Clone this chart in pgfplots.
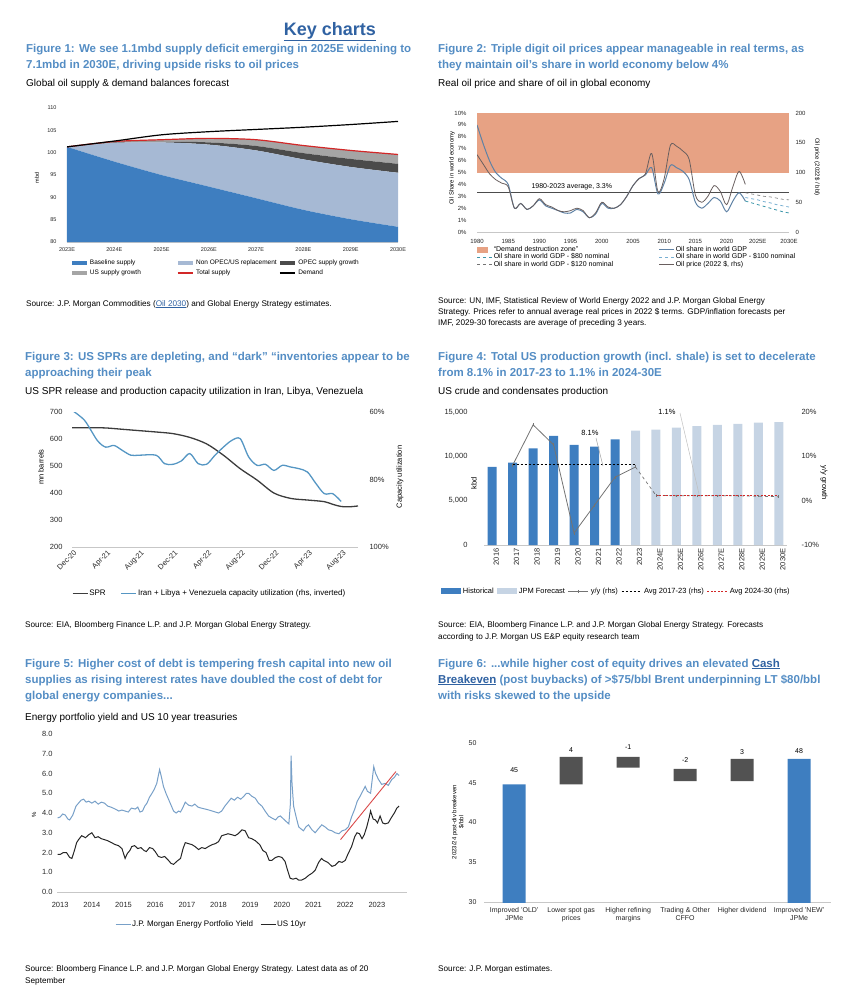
\documentclass[border=0pt]{standalone}
\usepackage{fontspec}
\setmainfont{Liberation Sans}
\usepackage{pgfplots}
\pgfplotsset{compat=1.18}
\usepackage{pgfplotstable}

\definecolor{keyblue}{RGB}{48,98,162}
\definecolor{titleblue}{RGB}{84,141,196}
\definecolor{barblue}{RGB}{62,126,192}
\definecolor{lightbar}{RGB}{198,212,228}
\definecolor{nonopec}{RGB}{166,185,212}
\definecolor{opecgrey}{RGB}{75,75,75}
\definecolor{usgrey}{RGB}{165,165,165}
\definecolor{demred}{RGB}{210,40,40}
\definecolor{salmon}{RGB}{231,162,132}
\definecolor{shareblue}{RGB}{95,130,165}
\definecolor{pricegrey}{RGB}{105,95,95}
\definecolor{teal80}{RGB}{60,150,170}
\definecolor{lb100}{RGB}{120,175,210}
\definecolor{yieldblue}{RGB}{120,160,200}
\definecolor{sprgrey}{RGB}{60,60,60}
\definecolor{utilblue}{RGB}{85,150,195}

\newcommand\ttl{\fontsize{11.5}{14}\selectfont\bfseries\color{titleblue}}
\newcommand\sub{\fontsize{10}{12}\selectfont}
\newcommand\src{\fontsize{8.2}{10}\selectfont}
\newcommand\tl[3]{\node[anchor=base west,inner sep=0pt] at (#1pt,-#2pt) {#3};}

\pgfplotsset{
  base/.style={scale only axis, anchor=south west, enlargelimits=false, clip=true,
    axis line style={draw=black!22, line width=0.6pt},
    major tick length=0pt, minor tick length=0pt,
    tick label style={text=black!85},
    /pgf/number format/assume math mode=true,
    legend style={draw=none, fill=none, inner sep=0pt, outer sep=0pt,
      nodes={inner sep=1pt}},
    legend cell align=left},
  larea/.style={legend image code/.code={\fill[##1,draw=none] (0pt,-1.8pt) rectangle (15pt,1.8pt);}},
  lbox/.style={legend image code/.code={\fill[##1,draw=none] (0pt,-3pt) rectangle (11pt,3pt);}},
  lbar/.style={legend image code/.code={\fill[##1,draw=none] (0pt,-3pt) rectangle (20pt,3pt);}},
  lline/.style={legend image code/.code={\draw[##1] (0pt,0pt) -- (15pt,0pt);}},
  lline2/.style={legend image code/.code={\draw[##1] (0pt,0pt) -- (20pt,0pt);}},
  lmark/.style={legend image code/.code={\draw[mark repeat=2,mark phase=2,##1] plot coordinates {(0pt,0pt) (10pt,0pt) (20pt,0pt)};}},
}

% Figure 1: supply stack and demand (mbd)
\pgfplotstableread{
x B N O U T D
0 101.3 0 0 0 101.3 101.3
1 98.0 4.2 0.1 0.2 102.5 102.6
2 95.0 7.3 0.2 0.4 102.9 104.0
3 92.4 9.4 0.5 0.9 103.2 104.7
4 89.8 10.7 1.0 1.4 102.9 105.2
5 87.2 11.3 1.4 1.7 101.6 105.7
6 85.1 11.7 1.8 1.9 100.5 106.3
7 83.4 12.1 2.0 2.1 99.6 107.0
}\figone

% Figure 2: oil share (% of GDP) and real oil price (2022 $/bbl)
\pgfplotstableread{
year share price
1980 9.0 130
1981 7.4 114
1982 6.0 98
1983 5.0 88
1984 4.5 82
1985 4.0 76
1986 2.0 40
1987 2.4 48
1988 1.9 38
1989 2.2 44
1990 2.7 56
1991 2.2 46
1992 2.0 42
1993 1.8 36
1994 1.6 34
1995 1.6 36
1996 1.9 40
1997 1.7 36
1998 1.2 24
1999 1.5 32
2000 2.4 50
2001 2.0 42
2002 2.0 40
2003 2.3 46
2004 3.0 60
2005 3.9 78
2006 4.5 90
2007 4.8 98
2008 5.4 132
2009 3.2 68
2010 4.1 90
2011 5.6 146
2012 5.4 144
2013 5.1 136
2014 4.4 122
2015 2.5 62
2016 2.0 50
2017 2.4 60
2018 2.9 78
2019 2.6 68
2020 1.7 46
2021 2.6 76
2022 3.3 102
2023 2.6 80
}\figtwo

% Figure 3: SPR (mn bbl) and capacity utilization (%)
\pgfplotstableread{
m spr
0 642
2 642
4 641
6 636
8 631
10 626
12 620
14 606
16 582
18 540
20 490
22 448
24 400
26 380
28 374
30 368
31 358
32 350
33 349
34 352
}\figthreeA
\pgfplotstableread{
m util
0 59.5
1.5 62.5
3 68.4
4 70.4
5 69.9
6 71.4
7 72.8
8 72.8
10 72.8
11 75.3
12 75.5
13 74.5
14 72.3
15 75.3
16 75.5
17 72.8
18 70.4
19 68.4
20 67.9
21 73.3
22 75.8
23 75.5
24 77.3
25 75.8
26 76.3
27 76.8
28 77.8
29 81.2
30 84.2
31 84.2
32 86.5
}\figthreeB

% Figure 4: US crude production (kbd)
\pgfplotstableread{
year kbd
2016 8800
2017 9300
2018 10900
2019 12300
2020 11300
2021 11100
2022 11900
}\figfourH
\pgfplotstableread{
year kbd
2023 12900
2024 13000
2025 13250
2026 13400
2027 13550
2028 13650
2029 13800
2030 13850
}\figfourF

% Figure 5: energy portfolio yield and US 10yr
\pgfplotstableread{
t v
2012.92 3.75
2013.00 3.8
2013.08 3.95
2013.16 3.9
2013.24 3.7
2013.30 3.65
2013.40 3.9
2013.50 4.35
2013.58 4.5
2013.66 4.65
2013.74 4.7
2013.82 4.55
2013.90 4.6
2014.00 4.5
2014.10 4.6
2014.20 4.45
2014.30 4.55
2014.40 4.5
2014.50 4.35
2014.60 4.3
2014.74 4.2
2014.85 4.1
2014.95 4.15
2015.05 4.1
2015.15 4.05
2015.25 4.25
2015.37 4.2
2015.45 4.3
2015.52 4.05
2015.60 4.1
2015.67 4.35
2015.74 4.5
2015.82 4.8
2015.90 5.0
2015.97 5.2
2016.05 5.5
2016.10 5.9
2016.14 6.2
2016.20 5.8
2016.26 5.35
2016.34 5.0
2016.42 4.7
2016.50 4.4
2016.58 4.1
2016.66 4.0
2016.74 4.1
2016.80 4.05
2016.88 4.3
2016.95 4.55
2017.05 4.4
2017.16 4.35
2017.25 4.45
2017.35 4.3
2017.45 4.25
2017.58 4.2
2017.70 4.15
2017.80 4.1
2017.90 4.05
2018.00 4.0
2018.10 4.1
2018.20 4.35
2018.30 4.55
2018.40 4.75
2018.50 4.65
2018.60 4.8
2018.70 4.7
2018.80 4.85
2018.88 5.0
2018.95 5.0
2019.05 4.85
2019.16 4.75
2019.26 4.5
2019.37 4.35
2019.47 4.1
2019.58 3.85
2019.68 3.75
2019.80 3.65
2019.88 3.8
2019.95 3.85
2020.05 3.7
2020.15 3.55
2020.22 3.45
2020.27 4.5
2020.29 6.9
2020.32 5.5
2020.37 4.35
2020.45 3.8
2020.53 3.3
2020.60 3.2
2020.68 3.1
2020.76 3.3
2020.84 3.4
2020.95 3.15
2021.05 3.0
2021.15 3.2
2021.26 3.4
2021.36 3.3
2021.47 3.15
2021.58 3.1
2021.68 3.0
2021.80 2.95
2021.90 3.1
2022.00 3.15
2022.10 3.3
2022.20 3.8
2022.30 4.2
2022.38 4.6
2022.47 4.85
2022.55 5.1
2022.63 5.35
2022.70 5.1
2022.80 5.0
2022.86 5.8
2022.90 6.35
2022.96 6.0
2023.05 5.7
2023.15 5.45
2023.26 5.5
2023.36 5.4
2023.47 5.7
2023.55 5.8
2023.63 6.0
2023.70 5.9
}\figfiveA
\pgfplotstableread{
t v
2012.92 1.9
2013.00 1.9
2013.10 2.0
2013.20 2.0
2013.30 1.75
2013.37 1.7
2013.45 2.1
2013.52 2.5
2013.58 2.65
2013.68 2.85
2013.80 2.75
2013.90 2.9
2014.00 3.0
2014.10 2.75
2014.20 2.8
2014.30 2.7
2014.40 2.65
2014.50 2.6
2014.62 2.5
2014.74 2.4
2014.84 2.35
2014.95 2.2
2015.05 1.7
2015.12 1.95
2015.20 2.1
2015.26 2.3
2015.35 2.35
2015.45 2.2
2015.55 2.25
2015.65 2.1
2015.72 2.05
2015.82 2.25
2015.92 2.2
2016.00 2.05
2016.10 1.8
2016.20 1.75
2016.30 1.8
2016.42 1.6
2016.50 1.45
2016.58 1.4
2016.68 1.55
2016.80 1.7
2016.88 2.2
2016.95 2.5
2017.05 2.45
2017.16 2.4
2017.26 2.3
2017.37 2.15
2017.47 2.25
2017.58 2.2
2017.68 2.3
2017.80 2.4
2017.90 2.45
2018.00 2.55
2018.10 2.85
2018.20 2.9
2018.30 2.95
2018.42 2.9
2018.52 2.85
2018.62 2.95
2018.74 3.15
2018.84 3.1
2018.95 2.75
2019.05 2.7
2019.16 2.6
2019.30 2.4
2019.40 2.1
2019.50 2.0
2019.60 1.6
2019.68 1.6
2019.80 1.75
2019.90 1.8
2020.00 1.75
2020.10 1.55
2020.18 1.1
2020.26 0.7
2020.35 0.65
2020.45 0.7
2020.53 0.6
2020.62 0.6
2020.74 0.7
2020.85 0.85
2020.95 0.95
2021.05 1.1
2021.16 1.5
2021.25 1.7
2021.32 1.6
2021.45 1.5
2021.58 1.3
2021.68 1.35
2021.80 1.55
2021.90 1.5
2022.00 1.6
2022.08 1.9
2022.20 2.3
2022.30 2.8
2022.37 3.0
2022.45 2.95
2022.53 2.7
2022.60 2.9
2022.68 3.3
2022.76 3.8
2022.80 4.1
2022.88 3.7
2022.95 3.65
2023.02 3.5
2023.10 3.85
2023.18 3.5
2023.26 3.45
2023.36 3.5
2023.45 3.75
2023.55 4.0
2023.63 4.25
2023.70 4.35
}\figfiveB

\begin{document}
\begin{tikzpicture}
\path (0pt,0pt) rectangle (848pt,-997pt);

% ---------- header and text ----------
\node[anchor=base,inner sep=0pt,font=\fontsize{18}{20}\selectfont\bfseries,text=keyblue] at (330pt,-35pt) {\underline{Key charts}};

\tl{26}{52}{\ttl Figure 1: We see 1.1mbd supply deficit emerging in 2025E widening to}
\tl{26}{68}{\ttl 7.1mbd in 2030E, driving upside risks to oil prices}
\tl{26}{86}{\sub Global oil supply \& demand balances forecast}
\tl{26}{306}{\src Source: J.P. Morgan Commodities (\textcolor{keyblue}{\underline{Oil 2030}}) and Global Energy Strategy estimates.}

\tl{438}{52}{\ttl Figure 2: Triple digit oil prices appear manageable in real terms, as}
\tl{438}{68}{\ttl they maintain oil’s share in world economy below 4\%}
\tl{438}{86}{\sub Real oil price and share of oil in global economy}
\tl{438}{303}{\src Source: UN, IMF, Statistical Review of World Energy 2022 and J.P. Morgan Global Energy}
\tl{438}{314}{\src Strategy. Prices refer to annual average real prices in 2022 \$ terms. GDP/inflation forecasts per}
\tl{438}{325}{\src IMF, 2029-30 forecasts are average of preceding 3 years.}

\tl{25}{360}{\ttl Figure 3: US SPRs are depleting, and “dark” “inventories appear to be}
\tl{25}{376}{\ttl approaching their peak}
\tl{25}{394}{\sub US SPR release and production capacity utilization in Iran, Libya, Venezuela}
\tl{25}{627}{\src Source: EIA, Bloomberg Finance L.P. and J.P. Morgan Global Energy Strategy.}

\tl{438}{360}{\ttl Figure 4: Total US production growth (incl. shale) is set to decelerate}
\tl{438}{376}{\ttl from 8.1\% in 2017-23 to 1.1\% in 2024-30E}
\tl{438}{394}{\sub US crude and condensates production}
\tl{438}{627}{\src Source: EIA, Bloomberg Finance L.P. and J.P. Morgan Global Energy Strategy. Forecasts}
\tl{438}{639}{\src according to J.P. Morgan US E\&P equity research team}

\tl{25}{667}{\ttl Figure 5: Higher cost of debt is tempering fresh capital into new oil}
\tl{25}{683}{\ttl supplies as rising interest rates have doubled the cost of debt for}
\tl{25}{699}{\ttl global energy companies...}
\tl{25}{720}{\sub Energy portfolio yield and US 10 year treasuries}
\tl{25}{971}{\src Source: Bloomberg Finance L.P. and J.P. Morgan Global Energy Strategy. Latest data as of 20}
\tl{25}{983}{\src September}

\tl{438}{667}{\ttl Figure 6: ...while higher cost of equity drives an elevated {\color{keyblue}\underline{Cash}}}
\tl{438}{683}{\ttl {\color{keyblue}\underline{Breakeven}} (post buybacks) of >\$75/bbl Brent underpinning LT \$80/bbl}
\tl{438}{699}{\ttl with risks skewed to the upside}
\tl{438}{971}{\src Source: J.P. Morgan estimates.}

% ---------- Figure 1 ----------
\begin{axis}[base, at={(67pt,-242pt)}, width=331pt, height=134pt,
  xmin=0, xmax=7, ymin=80, ymax=110, ytick={80,85,...,110},
  xtick={0,...,7}, xticklabels={2023E,2024E,2025E,2026E,2027E,2028E,2029E,2030E},
  tick label style={font=\fontsize{5.5}{6}\selectfont},
  axis x line*=bottom, axis y line*=left, x axis line style={-}, y axis line style={draw=none},
  yticklabel style={xshift=-7pt}, xticklabel style={yshift=-2pt},
  stack plots=y]
\addplot[fill=barblue, draw=none, smooth] table[x=x,y=B]{\figone} \closedcycle;
\addplot[fill=nonopec, draw=none, smooth] table[x=x,y=N]{\figone} \closedcycle;
\addplot[fill=opecgrey, draw=none, smooth] table[x=x,y=O]{\figone} \closedcycle;
\addplot[fill=usgrey, draw=none, smooth] table[x=x,y=U]{\figone} \closedcycle;
\end{axis}
\begin{axis}[base, at={(67pt,-242pt)}, width=331pt, height=134pt,
  xmin=0, xmax=7, ymin=80, ymax=110, hide axis,
  legend columns=3,
  legend style={at={(axis description cs:0.015,-0.125)}, anchor=north west,
    font=\fontsize{6.5}{7}\selectfont, row sep=2pt,
    /tikz/every odd column/.append style={column sep=2pt}}]
\addlegendimage{larea, fill=barblue}\addlegendentry{\makebox[86pt][l]{Baseline supply}}
\addlegendimage{larea, fill=nonopec}\addlegendentry{\makebox[82pt][l]{Non OPEC/US replacement}}
\addlegendimage{larea, fill=opecgrey}\addlegendentry{OPEC supply growth}
\addlegendimage{larea, fill=usgrey}\addlegendentry{\makebox[86pt][l]{US supply growth}}
\addplot[demred, line width=1.2pt, smooth, lline] table[x=x,y=T]{\figone};
\addlegendentry{\makebox[82pt][l]{Total supply}}
\addplot[black, line width=1.2pt, smooth, lline] table[x=x,y=D]{\figone};
\addlegendentry{Demand}
\end{axis}
\node[rotate=90,font=\fontsize{5.5}{6}\selectfont] at (37pt,-178pt) {mbd};

% ---------- Figure 2 ----------
\begin{axis}[base, at={(477pt,-232pt)}, width=312pt, height=119pt,
  xmin=1980, xmax=2030, ymin=0, ymax=10, ytick={0,...,10},
  yticklabel={\pgfmathprintnumber{\tick}\%},
  xtick={1980,1985,...,2030},
  xticklabels={1980,1985,1990,1995,2000,2005,2010,2015,2020,2025E,2030E},
  tick label style={font=\fontsize{6}{7}\selectfont},
  axis x line*=bottom, axis y line*=left, x axis line style={-}, y axis line style={draw=none},
  yticklabel style={xshift=-7pt}, xticklabel style={yshift=-4pt}]
\addplot[fill=salmon, draw=none] coordinates {(1980,5) (2030,5) (2030,10) (1980,10)};
\addplot[black!70, line width=0.8pt] coordinates {(1980,3.3) (2030,3.3)};
\addplot[shareblue, line width=1pt, smooth] table[x=year,y=share]{\figtwo};
\addplot[teal80, dashed, line width=0.8pt] coordinates {(2023,2.6) (2024,2.45) (2025,2.3) (2026,2.15) (2027,2.0) (2028,1.85) (2029,1.7) (2030,1.6)};
\addplot[lb100, dashed, line width=0.8pt] coordinates {(2023,2.9) (2024,2.8) (2025,2.7) (2026,2.55) (2027,2.45) (2028,2.3) (2029,2.2) (2030,2.1)};
\addplot[black!55, dashed, line width=0.6pt] coordinates {(2023,3.3) (2024,3.2) (2025,3.1) (2026,3.0) (2027,2.95) (2028,2.85) (2029,2.75) (2030,2.7)};
\node[font=\fontsize{7}{8}\selectfont] at (axis cs:1995.2,3.8) {1980-2023 average, 3.3\%};
\end{axis}
\begin{axis}[base, at={(477pt,-232pt)}, width=312pt, height=119pt,
  xmin=1980, xmax=2030, ymin=0, ymax=200, ytick={0,50,...,200},
  tick label style={font=\fontsize{6}{7}\selectfont},
  axis x line=none, axis y line*=right, y axis line style={draw=none},
  yticklabel style={xshift=3pt},
  legend columns=2,
  legend style={at={(axis description cs:0,-0.115)}, anchor=north west,
    font=\fontsize{7}{8}\selectfont, row sep=-1.5pt}]
\addlegendimage{lbox, fill=salmon}\addlegendentry{\makebox[164pt][l]{“Demand destruction zone”}}
\addlegendimage{lline, shareblue, line width=1pt}\addlegendentry{Oil share in world GDP}
\addlegendimage{lline, teal80, dashed, line width=0.8pt}\addlegendentry{Oil share in world GDP - \$80 nominal}
\addlegendimage{lline, lb100, dashed, line width=0.8pt}\addlegendentry{Oil share in world GDP - \$100 nominal}
\addlegendimage{lline, black!55, dashed, line width=0.6pt}\addlegendentry{Oil share in world GDP - \$120 nominal}
\addplot[pricegrey, line width=0.8pt, smooth, lline] table[x=year,y=price]{\figtwo};
\addlegendentry{Oil price (2022 \$, rhs)}
\end{axis}
\node[rotate=90,font=\fontsize{6}{7}\selectfont] at (452pt,-168pt) {Oil Share in world economy};
\node[rotate=-90,font=\fontsize{6}{7}\selectfont] at (817pt,-167pt) {Oil price (2022\$ / bbl)};

% ---------- Figure 3 ----------
\begin{axis}[base, at={(72pt,-547pt)}, width=286pt, height=135pt,
  xmin=0, xmax=34, ymin=200, ymax=700, ytick={200,300,...,700},
  xtick={0,4,...,32},
  xticklabels={Dec-20,Apr-21,Aug-21,Dec-21,Apr-22,Aug-22,Dec-22,Apr-23,Aug-23},
  tick label style={font=\fontsize{7.5}{8}\selectfont},
  xticklabel style={rotate=45, anchor=north east, yshift=-2pt, inner sep=0.5pt},
  axis x line*=bottom, axis y line*=left, x axis line style={-}, y axis line style={draw=none},
  yticklabel style={xshift=-6pt}]
\addplot[sprgrey, line width=1.3pt, smooth] table[x=m,y=spr]{\figthreeA};
\end{axis}
\begin{axis}[base, at={(72pt,-547pt)}, width=286pt, height=135pt,
  xmin=0, xmax=34, ymin=60, ymax=100, y dir=reverse, ytick={60,80,100},
  yticklabel={\pgfmathprintnumber{\tick}\%},
  tick label style={font=\fontsize{7.5}{8}\selectfont},
  axis x line=none, axis y line*=right, y axis line style={draw=none},
  yticklabel style={xshift=8pt},
  legend columns=-1,
  legend style={at={(axis description cs:0,-0.31)}, anchor=north west,
    font=\fontsize{8}{9}\selectfont, /tikz/every even column/.append style={column sep=14pt}}]
\addlegendimage{lline, sprgrey, line width=1.3pt}\addlegendentry{SPR}
\addplot[utilblue, line width=1.3pt, smooth, lline] table[x=m,y=util]{\figthreeB};
\addlegendentry{Iran + Libya + Venezuela capacity utilization (rhs, inverted)}
\end{axis}
\node[rotate=90,font=\fontsize{7.5}{8}\selectfont] at (41pt,-467pt) {mn barrels};
\node[rotate=90,font=\fontsize{7.5}{8}\selectfont] at (400pt,-477pt) {Capacity utilization};

% ---------- Figure 4 ----------
\begin{axis}[base, at={(484pt,-545pt)}, width=303pt, height=133pt,
  xmin=2015.6, xmax=2030.4, ymin=0, ymax=15000, ytick={0,5000,10000,15000},
  scaled y ticks=false,
  xtick={2016,...,2030},
  xticklabels={2016,2017,2018,2019,2020,2021,2022,2023,2024E,2025E,2026E,2027E,2028E,2029E,2030E},
  tick label style={font=\fontsize{7.5}{8}\selectfont},
  xticklabel style={rotate=90, anchor=east, yshift=-4pt},
  axis x line*=bottom, axis y line*=left, x axis line style={-}, y axis line style={draw=none},
  yticklabel style={xshift=-13pt},
  ybar, bar width=9pt, bar shift=0pt]
\addplot[fill=barblue, draw=none] table[x=year,y=kbd]{\figfourH};
\addplot[fill=lightbar, draw=none] table[x=year,y=kbd]{\figfourF};
\end{axis}
\begin{axis}[base, at={(484pt,-545pt)}, width=303pt, height=133pt,
  xmin=2015.6, xmax=2030.4, ymin=-10, ymax=20, ytick={-10,0,10,20},
  yticklabel={\pgfmathprintnumber{\tick}\%},
  tick label style={font=\fontsize{7.5}{8}\selectfont},
  axis x line=none, axis y line*=right, y axis line style={draw=none},
  yticklabel style={xshift=11pt},
  legend columns=-1,
  legend style={at={(axis description cs:-0.142,-0.315)}, anchor=north west,
    font=\fontsize{7.5}{8}\selectfont,
    /tikz/every odd column/.append style={column sep=1pt},
    /tikz/every even column/.append style={column sep=2pt}}]
\addlegendimage{lbar, fill=barblue}\addlegendentry{Historical}
\addlegendimage{lbar, fill=lightbar}\addlegendentry{JPM Forecast}
\addplot[black!55, line width=0.8pt, mark=|, mark size=1.5pt, lmark]
  coordinates {(2017,8.0) (2018,17.1) (2019,12.6) (2020,-7.3) (2021,-1.0) (2022,5.3) (2023,7.6)};
\addlegendentry{y/y (rhs)}
\addplot[black!55, line width=0.7pt, dashed, mark=|, mark size=1.2pt, mark options={solid}, forget plot]
  coordinates {(2023,7.6) (2024,1.2) (2025,1.1) (2026,1.1) (2027,1.1) (2028,1.1) (2029,1.0) (2030,0.9)};
\addplot[black, line width=1.1pt, dash pattern=on 2.5pt off 1.5pt, lline2]
  coordinates {(2017,8.1) (2023,8.1)};
\addlegendentry{Avg 2017-23 (rhs)}
\addplot[demred, line width=0.9pt, dash pattern=on 2pt off 1.5pt, lline2]
  coordinates {(2024,1.1) (2030,1.1)};
\addlegendentry{Avg 2024-30 (rhs)}
\end{axis}
\node[rotate=90,font=\fontsize{7.5}{8}\selectfont] at (474pt,-483pt) {kbd};
\node[rotate=-90,font=\fontsize{7.5}{8}\selectfont] at (824pt,-483pt) {y/y growth};
\node[font=\fontsize{7.5}{8}\selectfont] at (590pt,-433pt) {8.1\%};
\draw[black!35, line width=0.5pt] (596pt,-438pt) -- (603pt,-466pt);
\node[font=\fontsize{7.5}{8}\selectfont] at (667pt,-412pt) {1.1\%};
\draw[black!25, line width=0.5pt] (680pt,-413pt) -- (699pt,-494pt);

% ---------- Figure 5 ----------
\begin{axis}[base, at={(57pt,-892pt)}, width=350pt, height=158pt,
  xmin=2012.9, xmax=2023.95, ymin=0, ymax=8, ytick={0,...,8},
  xtick={2013,...,2023},
  tick label style={font=\fontsize{7.5}{8}\selectfont},
  yticklabel style={/pgf/number format/.cd, fixed, fixed zerofill, precision=1, /tikz/.cd, xshift=-1pt},
  xticklabel style={/pgf/number format/1000 sep=, yshift=-7pt},
  axis x line*=bottom, axis y line*=left, x axis line style={-}, y axis line style={draw=none},
  legend columns=-1,
  legend style={at={(axis description cs:0.166,-0.175)}, anchor=north west,
    font=\fontsize{8}{9}\selectfont, /tikz/every even column/.append style={column sep=6pt}}]
\addplot[yieldblue, line width=1pt, lline] table[x=t,y=v]{\figfiveA};
\addlegendentry{J.P. Morgan Energy Portfolio Yield}
\addplot[black!85, line width=1pt, lline] table[x=t,y=v]{\figfiveB};
\addlegendentry{US 10yr}
\addplot[demred!85, line width=0.9pt, forget plot] coordinates {(2021.85,2.65) (2023.6,6.1)};
\end{axis}
\node[rotate=90,font=\fontsize{6}{7}\selectfont] at (34pt,-815pt) {\%};

% ---------- Figure 6 ----------
\begin{axis}[base, at={(484pt,-902pt)}, width=347pt, height=159pt,
  xmin=-0.53, xmax=5.56, ymin=30, ymax=50, ytick={30,35,...,50},
  xtick={0,...,5},
  xticklabels={{Improved 'OLD'\\JPMe},{Lower spot gas\\prices},{Higher refining\\margins},{Trading \& Other\\CFFO},{Higher dividend},{Improved 'NEW'\\JPMe}},
  tick label style={font=\fontsize{7}{8}\selectfont},
  xticklabel style={align=center, yshift=-2pt},
  yticklabel style={xshift=-4pt},
  axis x line*=bottom, axis y line*=left, x axis line style={-}, y axis line style={draw=none},
  ybar stacked, bar width=23pt]
\addplot[draw=none, fill=none] coordinates {(0,0) (1,44.8) (2,46.9) (3,45.2) (4,45.2) (5,0)};
\addplot[fill=barblue, draw=none] coordinates {(0,44.8) (1,0) (2,0) (3,0) (4,0) (5,48.0)};
\addplot[fill=black!68, draw=none] coordinates {(0,0) (1,3.45) (2,1.35) (3,1.55) (4,2.8) (5,0)};
\node[font=\fontsize{7}{8}\selectfont] at (axis cs:0,46.6) {45};
\node[font=\fontsize{7}{8}\selectfont] at (axis cs:1,49.1) {4};
\node[font=\fontsize{7}{8}\selectfont] at (axis cs:2,49.5) {-1};
\node[font=\fontsize{7}{8}\selectfont] at (axis cs:3,47.9) {-2};
\node[font=\fontsize{7}{8}\selectfont] at (axis cs:4,48.9) {3};
\node[font=\fontsize{7}{8}\selectfont] at (axis cs:5,49.0) {48};
\end{axis}
\node[rotate=90,font=\fontsize{6}{7}\selectfont,align=center] at (458pt,-822pt) {2023/24 post-div breakeven\\\$/bbl};

\end{tikzpicture}
\end{document}
